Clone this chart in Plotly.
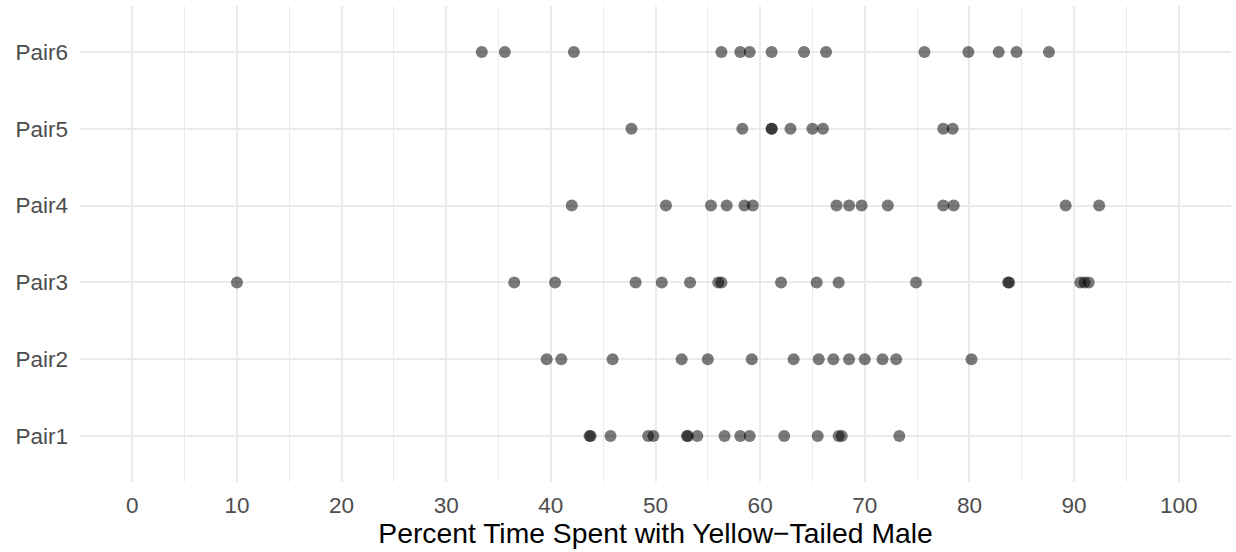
import plotly.graph_objects as go

pairs = ["Pair1", "Pair2", "Pair3", "Pair4", "Pair5", "Pair6"]

pair1 = [43.7, 43.8, 45.7, 49.3, 49.8, 53.0, 53.1, 54.0, 56.6, 58.1, 59.0, 62.3, 65.5, 67.5, 67.8, 73.3]
pair2 = [39.6, 41.0, 45.9, 52.5, 55.0, 59.2, 63.2, 65.6, 67.0, 68.5, 70.0, 71.7, 73.0, 80.2]
pair3 = [10.0, 36.5, 40.4, 48.1, 50.6, 53.3, 56.0, 56.3, 62.0, 65.4, 67.5, 74.9, 83.7, 83.8, 90.6, 91.0, 91.4]
pair4 = [42.0, 51.0, 55.3, 56.8, 58.5, 59.3, 67.3, 68.5, 69.7, 72.2, 77.5, 78.5, 89.2, 92.4]
pair5 = [47.7, 58.3, 61.1, 61.1, 62.9, 65.0, 66.0, 77.5, 78.4]
pair6 = [33.4, 35.6, 42.2, 56.3, 58.1, 59.0, 61.1, 64.2, 66.3, 75.7, 79.9, 82.8, 84.5, 87.6]

x_ticks = list(range(0, 101, 10))
x_title = "Percent Time Spent with Yellow\u2212Tailed Male"

series = [pair1, pair2, pair3, pair4, pair5, pair6]
xs, ys = [], []
for name, vals in zip(pairs, series):
    xs.extend(vals)
    ys.extend([name] * len(vals))

fig = go.Figure()
fig.add_trace(go.Scatter(
    x=xs, y=ys, mode="markers",
    marker=dict(size=12, color="rgba(0,0,0,0.52)", line=dict(width=0)),
    showlegend=False, hoverinfo="x+y",
))

font_family = "Liberation Sans, Arial, sans-serif"
fig.update_layout(
    width=1236, height=552,
    margin=dict(l=80, r=5, t=6, b=70, pad=0),
    plot_bgcolor="white", paper_bgcolor="white",
    font=dict(family=font_family, color="#4D4D4D", size=22.5),
    xaxis=dict(
        range=[-5, 105], tickvals=x_ticks, ticktext=[str(v) for v in x_ticks],
        showgrid=True, gridcolor="#EBEBEB", gridwidth=2.2,
        minor=dict(dtick=5, tick0=0, showgrid=True, gridcolor="#EBEBEB", gridwidth=1.1),
        zeroline=False, showline=False, ticks="",
        tickfont=dict(size=22.5, color="#4D4D4D"),
        ticklabelstandoff=7,
        title=dict(text=x_title, font=dict(size=28.3, color="black"), standoff=5),
    ),
    yaxis=dict(
        type="category", categoryorder="array", categoryarray=pairs,
        range=[-0.6, 5.6],
        showgrid=True, gridcolor="#EBEBEB", gridwidth=2.2,
        zeroline=False, showline=False, ticks="",
        tickfont=dict(size=22.5, color="#4D4D4D"),
        ticklabelstandoff=11,
    ),
)

fig.write_html("out.html")
